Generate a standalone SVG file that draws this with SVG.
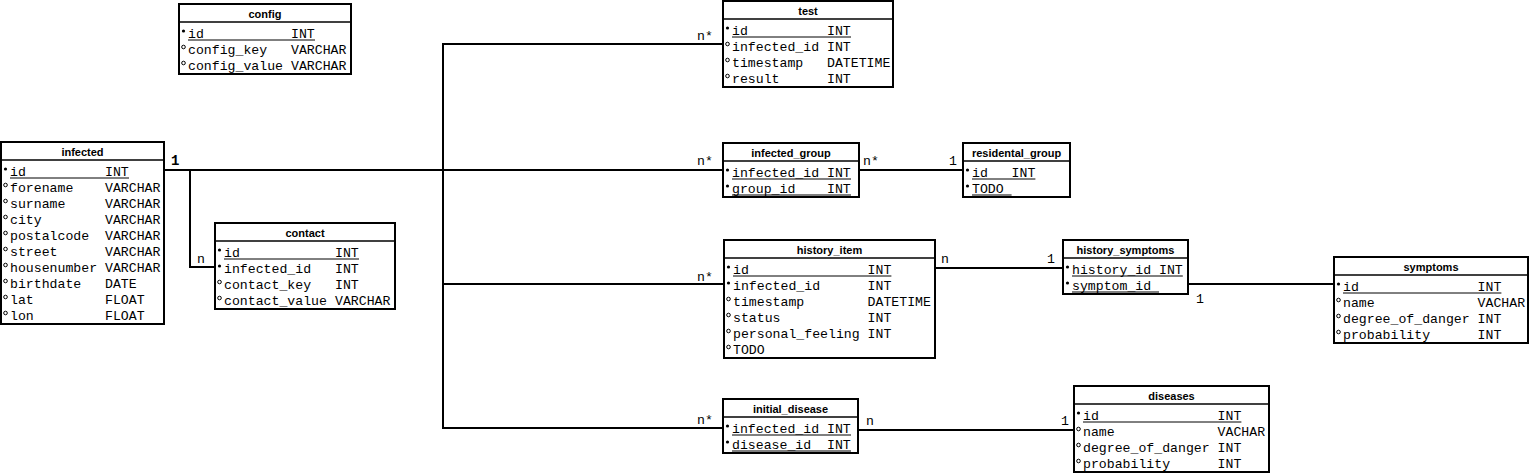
<svg xmlns="http://www.w3.org/2000/svg" width="1529" height="473" viewBox="0 0 1529 473">
<style>
.box{fill:#fff;stroke:#000;stroke-width:2}
.sep{stroke:#000;stroke-width:1.5}
.t{font-family:"Liberation Sans",Arial,sans-serif;font-weight:bold;font-size:11px;text-anchor:middle;fill:#000}
.r{font-family:"Liberation Mono","Courier New",monospace;font-size:13.2px;fill:#000}
.ul{stroke:#000;stroke-width:1}
.pk{fill:#000}
.op{fill:none;stroke:#000;stroke-width:1}
.c{fill:none;stroke:#000;stroke-width:2}
.lb{font-family:"Liberation Mono","Courier New",monospace;font-size:13.2px;fill:#000}
</style>
<g id="connectors">
<polyline class="c" points="164,170 723,170"/>
<polyline class="c" points="190,170 190,267 215,267"/>
<polyline class="c" points="723,44 443,44 443,428 723,428"/>
<polyline class="c" points="443,284 724,284"/>
<polyline class="c" points="859,170 963,170"/>
<polyline class="c" points="935,268 1063,268"/>
<polyline class="c" points="1188,284 1334,284"/>
<polyline class="c" points="858,430 1074,430"/>
<text class="lb" x="171" y="165" style="font-weight:bold;font-size:14px">1</text>
<text class="lb" x="197" y="263">n</text>
<text class="lb" x="697" y="40">n*</text>
<text class="lb" x="697" y="165">n*</text>
<text class="lb" x="697" y="281">n*</text>
<text class="lb" x="697" y="424">n*</text>
<text class="lb" x="863" y="165">n*</text>
<text class="lb" x="949" y="165">1</text>
<text class="lb" x="941" y="263">n</text>
<text class="lb" x="1047" y="263">1</text>
<text class="lb" x="1196" y="303">1</text>
<text class="lb" x="1339" y="277">n</text>
<text class="lb" x="866" y="425">n</text>
<text class="lb" x="1061" y="425">1</text>
</g>

<g id="config">
<rect class="box" x="179" y="4" width="172" height="70"/>
<line class="sep" x1="179" y1="22" x2="351" y2="22"/>
<text class="t" x="265" y="18">config</text>
<g transform="translate(0,2)">
<circle class="pk" cx="183.5" cy="29" r="1.6"/><text class="r" x="188" y="36">id<tspan x="291">INT</tspan></text>
<line class="ul" x1="188" y1="38" x2="315" y2="38"/>
<circle class="op" cx="183.5" cy="45" r="1.8"/><text class="r" x="188" y="52">config_key<tspan x="291">VARCHAR</tspan></text>
<circle class="op" cx="183.5" cy="61" r="1.8"/><text class="r" x="188" y="68">config_value<tspan x="291">VARCHAR</tspan></text>
</g>
</g>

<g id="infected">
<rect class="box" x="1" y="142" width="163" height="182"/>
<line class="sep" x1="1" y1="160" x2="164" y2="160"/>
<text class="t" x="82.5" y="156">infected</text>
<g transform="translate(0,2)">
<circle class="pk" cx="5.5" cy="167" r="1.6"/><text class="r" x="10" y="174">id<tspan x="105">INT</tspan></text>
<line class="ul" x1="10" y1="176" x2="129" y2="176"/>
<circle class="op" cx="5.5" cy="183" r="1.8"/><text class="r" x="10" y="190">forename<tspan x="105">VARCHAR</tspan></text>
<circle class="op" cx="5.5" cy="199" r="1.8"/><text class="r" x="10" y="206">surname<tspan x="105">VARCHAR</tspan></text>
<circle class="op" cx="5.5" cy="215" r="1.8"/><text class="r" x="10" y="222">city<tspan x="105">VARCHAR</tspan></text>
<circle class="op" cx="5.5" cy="231" r="1.8"/><text class="r" x="10" y="238">postalcode<tspan x="105">VARCHAR</tspan></text>
<circle class="op" cx="5.5" cy="247" r="1.8"/><text class="r" x="10" y="254">street<tspan x="105">VARCHAR</tspan></text>
<circle class="op" cx="5.5" cy="263" r="1.8"/><text class="r" x="10" y="270">housenumber<tspan x="105">VARCHAR</tspan></text>
<circle class="op" cx="5.5" cy="279" r="1.8"/><text class="r" x="10" y="286">birthdate<tspan x="105">DATE</tspan></text>
<circle class="op" cx="5.5" cy="295" r="1.8"/><text class="r" x="10" y="302">lat<tspan x="105">FLOAT</tspan></text>
<circle class="op" cx="5.5" cy="311" r="1.8"/><text class="r" x="10" y="318">lon<tspan x="105">FLOAT</tspan></text>
</g>
</g>

<g id="contact">
<rect class="box" x="215" y="223" width="180" height="86"/>
<line class="sep" x1="215" y1="241" x2="395" y2="241"/>
<text class="t" x="305" y="237">contact</text>
<g transform="translate(0,2)">
<circle class="pk" cx="219.5" cy="248" r="1.6"/><text class="r" x="224" y="255">id<tspan x="335">INT</tspan></text>
<line class="ul" x1="224" y1="257" x2="359" y2="257"/>
<circle class="pk" cx="219.5" cy="264" r="1.6"/><text class="r" x="224" y="271">infected_id<tspan x="335">INT</tspan></text>
<circle class="op" cx="219.5" cy="280" r="1.8"/><text class="r" x="224" y="287">contact_key<tspan x="335">INT</tspan></text>
<circle class="op" cx="219.5" cy="296" r="1.8"/><text class="r" x="224" y="303">contact_value<tspan x="335">VARCHAR</tspan></text>
</g>
</g>

<g id="test">
<rect class="box" x="723" y="1" width="170" height="86"/>
<line class="sep" x1="723" y1="19" x2="893" y2="19"/>
<text class="t" x="808" y="15">test</text>
<g transform="translate(0,2)">
<circle class="pk" cx="727.5" cy="26" r="1.6"/><text class="r" x="732" y="33">id<tspan x="827">INT</tspan></text>
<line class="ul" x1="732" y1="35" x2="851" y2="35"/>
<circle class="op" cx="727.5" cy="42" r="1.8"/><text class="r" x="732" y="49">infected_id<tspan x="827">INT</tspan></text>
<circle class="op" cx="727.5" cy="58" r="1.8"/><text class="r" x="732" y="65">timestamp<tspan x="827">DATETIME</tspan></text>
<circle class="op" cx="727.5" cy="74" r="1.8"/><text class="r" x="732" y="81">result<tspan x="827">INT</tspan></text>
</g>
</g>

<g id="infected_group">
<rect class="box" x="723" y="143" width="136" height="54"/>
<line class="sep" x1="723" y1="161" x2="859" y2="161"/>
<text class="t" x="791" y="157">infected_group</text>
<g transform="translate(0,2)">
<circle class="pk" cx="727.5" cy="168" r="1.6"/><text class="r" x="732" y="175">infected_id<tspan x="827">INT</tspan></text>
<line class="ul" x1="732" y1="177" x2="851" y2="177"/>
<circle class="pk" cx="727.5" cy="184" r="1.6"/><text class="r" x="732" y="191">group_id<tspan x="827">INT</tspan></text>
<line class="ul" x1="732" y1="193" x2="851" y2="193"/>
</g>
</g>

<g id="residental_group">
<rect class="box" x="963" y="143" width="107" height="54"/>
<line class="sep" x1="963" y1="161" x2="1070" y2="161"/>
<text class="t" x="1016.5" y="157">residental_group</text>
<g transform="translate(0,2)">
<circle class="pk" cx="967.5" cy="168" r="1.6"/><text class="r" x="972" y="175">id<tspan x="1011.6">INT</tspan></text>
<line class="ul" x1="972" y1="177" x2="1035.4" y2="177"/>
<circle class="pk" cx="967.5" cy="184" r="1.6"/><text class="r" x="972" y="191">TODO</text>
<line class="ul" x1="972" y1="193" x2="1011.6" y2="193"/>
</g>
</g>

<g id="history_item">
<rect class="box" x="724" y="240" width="211" height="118"/>
<line class="sep" x1="724" y1="258" x2="935" y2="258"/>
<text class="t" x="829.5" y="254">history_item</text>
<g transform="translate(0,2)">
<circle class="pk" cx="728.5" cy="265" r="1.6"/><text class="r" x="733" y="272">id<tspan x="867.6">INT</tspan></text>
<line class="ul" x1="733" y1="274" x2="891.4" y2="274"/>
<circle class="pk" cx="728.5" cy="281" r="1.6"/><text class="r" x="733" y="288">infected_id<tspan x="867.6">INT</tspan></text>
<circle class="op" cx="728.5" cy="297" r="1.8"/><text class="r" x="733" y="304">timestamp<tspan x="867.6">DATETIME</tspan></text>
<circle class="op" cx="728.5" cy="313" r="1.8"/><text class="r" x="733" y="320">status<tspan x="867.6">INT</tspan></text>
<circle class="op" cx="728.5" cy="329" r="1.8"/><text class="r" x="733" y="336">personal_feeling<tspan x="867.6">INT</tspan></text>
<circle class="op" cx="728.5" cy="345" r="1.8"/><text class="r" x="733" y="352">TODO</text>
</g>
</g>

<g id="history_symptoms">
<rect class="box" x="1063" y="240" width="125" height="54"/>
<line class="sep" x1="1063" y1="258" x2="1188" y2="258"/>
<text class="t" x="1125.5" y="254">history_symptoms</text>
<g transform="translate(0,2)">
<circle class="pk" cx="1067.5" cy="265" r="1.6"/><text class="r" x="1072" y="272">history_id<tspan x="1159">INT</tspan></text>
<line class="ul" x1="1072" y1="274" x2="1182.8" y2="274"/>
<circle class="pk" cx="1067.5" cy="281" r="1.6"/><text class="r" x="1072" y="288">symptom_id</text>
<line class="ul" x1="1072" y1="290" x2="1159" y2="290"/>
</g>
</g>

<g id="symptoms">
<rect class="box" x="1334" y="257" width="194" height="86"/>
<line class="sep" x1="1334" y1="275" x2="1528" y2="275"/>
<text class="t" x="1431" y="271">symptoms</text>
<g transform="translate(0,2)">
<circle class="pk" cx="1338.5" cy="282" r="1.6"/><text class="r" x="1343" y="289">id<tspan x="1477.6">INT</tspan></text>
<line class="ul" x1="1343" y1="291" x2="1501.4" y2="291"/>
<circle class="op" cx="1338.5" cy="298" r="1.8"/><text class="r" x="1343" y="305">name<tspan x="1477.6">VACHAR</tspan></text>
<circle class="op" cx="1338.5" cy="314" r="1.8"/><text class="r" x="1343" y="321">degree_of_danger<tspan x="1477.6">INT</tspan></text>
<circle class="op" cx="1338.5" cy="330" r="1.8"/><text class="r" x="1343" y="337">probability<tspan x="1477.6">INT</tspan></text>
</g>
</g>

<g id="initial_disease">
<rect class="box" x="723" y="399" width="135" height="54"/>
<line class="sep" x1="723" y1="417" x2="858" y2="417"/>
<text class="t" x="790.5" y="413">initial_disease</text>
<g transform="translate(0,2)">
<circle class="pk" cx="727.5" cy="424" r="1.6"/><text class="r" x="732" y="431">infected_id<tspan x="827">INT</tspan></text>
<line class="ul" x1="732" y1="433" x2="851" y2="433"/>
<circle class="pk" cx="727.5" cy="440" r="1.6"/><text class="r" x="732" y="447">disease_id<tspan x="827">INT</tspan></text>
<line class="ul" x1="732" y1="449" x2="851" y2="449"/>
</g>
</g>

<g id="diseases">
<rect class="box" x="1074" y="386" width="195" height="86"/>
<line class="sep" x1="1074" y1="404" x2="1269" y2="404"/>
<text class="t" x="1171.5" y="400">diseases</text>
<g transform="translate(0,2)">
<circle class="pk" cx="1078.5" cy="411" r="1.6"/><text class="r" x="1083" y="418">id<tspan x="1217.6">INT</tspan></text>
<line class="ul" x1="1083" y1="420" x2="1241.4" y2="420"/>
<circle class="op" cx="1078.5" cy="427" r="1.8"/><text class="r" x="1083" y="434">name<tspan x="1217.6">VACHAR</tspan></text>
<circle class="op" cx="1078.5" cy="443" r="1.8"/><text class="r" x="1083" y="450">degree_of_danger<tspan x="1217.6">INT</tspan></text>
<circle class="op" cx="1078.5" cy="459" r="1.8"/><text class="r" x="1083" y="466">probability<tspan x="1217.6">INT</tspan></text>
</g>
</g>
</svg>
